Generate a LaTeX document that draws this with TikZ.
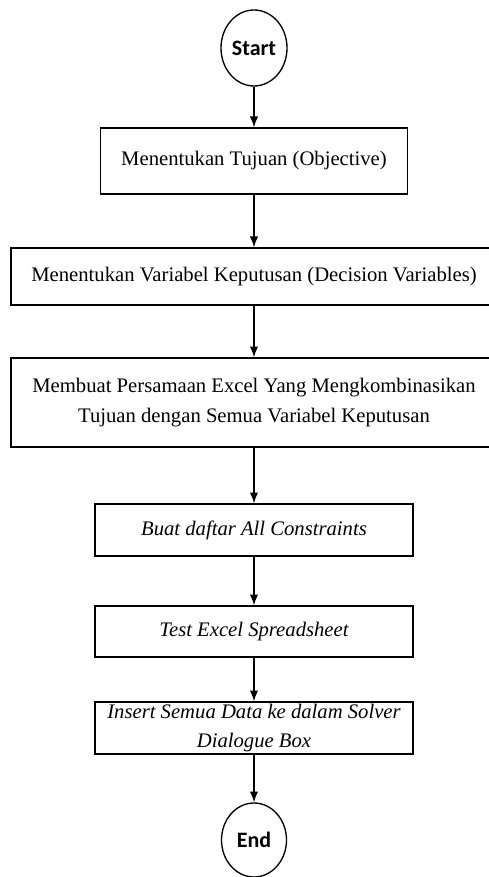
\documentclass[tikz,border=0pt]{standalone}
\usepackage{fontspec}
\setmainfont{Liberation Serif}
\newfontfamily\termfont{Carlito}
\usepackage{tikz}
\usetikzlibrary{shapes, arrows.meta}
\tikzstyle{block} = [draw, rectangle, minimum height=3em, minimum width=6em]
\tikzstyle{terminal} = [draw, ellipse]

\begin{document}
\begin{tikzpicture}[auto, node distance=68pt, >={Latex[length=6.5pt,width=5pt]}, line width=0.8pt]
    % 样式定义
    \tikzstyle{block} = [draw, rectangle, inner sep=0pt, align=center, font=\fontsize{12.4}{17.6}\selectfont]
    \tikzstyle{iblock} = [block, minimum width=190.8pt, minimum height=31.2pt, font=\fontsize{12.4}{17.6}\selectfont\itshape]
    \tikzstyle{terminal} = [draw, ellipse, inner sep=0pt, minimum width=39.6pt, minimum height=45.6pt, font=\termfont\bfseries\fontsize{13.2}{15}\selectfont]

    % 画布边界
    \useasboundingbox (0,0) rectangle (293.4pt,-526.2pt);
    \clip (0,0) rectangle (293.4pt,-526.2pt);

    % 放置节点
    \node [terminal] at (152.4pt,-28.8pt) (start) {Start};
    \node [block, below of=start, node distance=67.8pt, minimum width=184.2pt, minimum height=39.6pt] (goal) {Menentukan Tujuan (Objective)};
    \node [block, below of=goal, node distance=69.3pt, minimum width=291.6pt, minimum height=34.2pt] (vars) {Menentukan Variabel Keputusan (Decision Variables)};
    \node [block, below of=vars, node distance=75.6pt, minimum width=291.6pt, minimum height=53.4pt] (formula) {Membuat Persamaan Excel Yang Mengkombinasikan\\Tujuan dengan Semua Variabel Keputusan};
    \node [iblock, below of=formula, node distance=76.5pt] (constr) {Buat daftar All Constraints};
    \node [iblock, below of=constr, node distance=60.9pt, minimum height=30.6pt] (test) {Test Excel Spreadsheet};
    \node [iblock, below of=test, node distance=57.9pt] (solver) {Insert Semua Data ke dalam Solver\\Dialogue Box};
    \node [terminal, below of=solver, node distance=67.2pt, minimum width=39pt, minimum height=44.4pt] (end) {End};

    \draw [->] (start) -- (goal);
    \draw [->] (goal) -- (vars);
    \draw [->] (vars) -- (formula);
    \draw [->] (formula) -- (constr);
    \draw [->] (constr) -- (test);
    \draw [->] (test) -- (solver);
    \draw [->] (solver) -- (end);
\end{tikzpicture}
\end{document}
